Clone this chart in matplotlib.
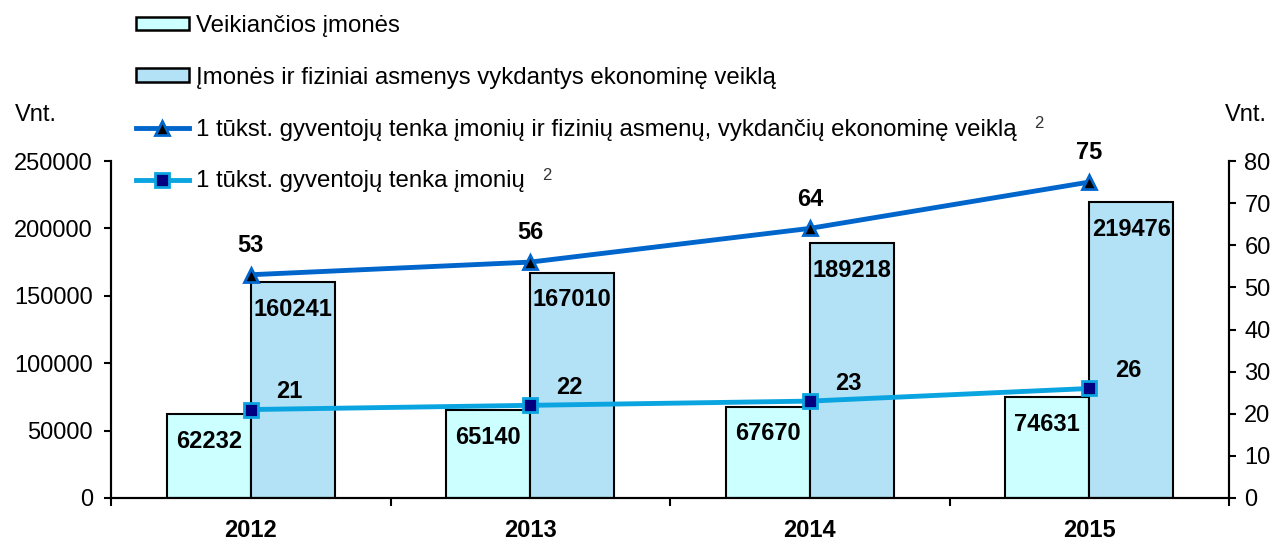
import numpy as np
import matplotlib.pyplot as plt
from matplotlib.patches import Patch
from matplotlib.lines import Line2D

plt.rcParams['font.family'] = ['Liberation Sans', 'DejaVu Sans']

# data
years = ['2012', '2013', '2014', '2015']
veikiancios = [62232, 65140, 67670, 74631]
vykdantys = [160241, 167010, 189218, 219476]
tenka_visi = [53, 56, 64, 75]      # imoniu ir fiziniu asmenu / 1 tukst. gyv.
tenka_imoniu = [21, 22, 23, 26]    # imoniu / 1 tukst. gyv.

labels = ['Veikiančios įmonės',
          'Įmonės ir fiziniai asmenys vykdantys ekonominę veiklą',
          '1 tūkst. gyventojų tenka įmonių ir fizinių asmenų, vykdančių ekonominę veiklą',
          '1 tūkst. gyventojų tenka įmonių']
footnote = '2'

c_bar1 = '#CCFFFF'
c_bar2 = '#B3E1F5'
c_line1 = '#0066CC'
c_line2 = '#0AA5E0'
FS = 17

fig = plt.figure(figsize=(12.84, 5.44), dpi=100)
ax = fig.add_axes([111 / 1284, 1 - 498 / 544, (1229 - 111) / 1284, (498 - 161) / 544])
ax2 = ax.twinx()

x = np.arange(len(years))
w = 0.3
b1 = ax.bar(x - w / 2, veikiancios, w, color=c_bar1, edgecolor='black', linewidth=1.5, zorder=2)
b2 = ax.bar(x + w / 2, vykdantys, w, color=c_bar2, edgecolor='black', linewidth=1.5, zorder=2)
for bars in (b1, b2):
    for r in bars:
        h = r.get_height()
        ax.annotate(f'{int(h)}', (r.get_x() + r.get_width() / 2, h),
                    xytext=(0, -19.5), textcoords='offset points', ha='center', va='center',
                    fontsize=FS, fontweight='bold')

ax.set_xlim(-0.5, len(years) - 0.5)
ax.set_ylim(0, 250000)
ax.set_yticks(np.arange(0, 250001, 50000))
ax.set_xticks(np.arange(-0.5, len(years), 1.0))
ax.set_xticklabels([])
ax.tick_params(axis='x', length=6, width=1.5, direction='out')
ax.tick_params(axis='y', length=5, width=1.5, direction='out', labelsize=FS, pad=8)
for i, y in enumerate(years):
    ax.text(i, -0.097, y, transform=ax.get_xaxis_transform(), ha='center', va='center',
            fontsize=FS, fontweight='bold')

ax2.plot(x, tenka_visi, color=c_line1, lw=3.5, marker='^', ms=9.5, mfc='black',
         mec=c_line1, mew=2, zorder=4)
ax2.plot(x, tenka_imoniu, color=c_line2, lw=3.5, marker='s', ms=9.5, mfc='#000080',
         mec=c_line2, mew=2, zorder=4)
ax2.set_ylim(0, 80)
ax2.set_yticks(np.arange(0, 81, 10))
ax2.tick_params(axis='y', length=5, width=1.5, direction='out', labelsize=FS, pad=6)
for i, v in enumerate(tenka_visi):
    ax2.annotate(str(v), (x[i], v), xytext=(0, 21), textcoords='offset points',
                 ha='center', va='center', fontsize=FS, fontweight='bold')
for i, v in enumerate(tenka_imoniu):
    ax2.annotate(str(v), (x[i], v), xytext=(28, 13), textcoords='offset points',
                 ha='center', va='center', fontsize=FS, fontweight='bold')

for a in (ax, ax2):
    a.spines['top'].set_visible(False)
    for s in ('left', 'right', 'bottom'):
        a.spines[s].set_linewidth(1.5)
ax.patch.set_visible(False)
ax2.patch.set_visible(False)

fig.text(36 / 1284, 1 - 115 / 544, 'Vnt.', ha='center', va='center', fontsize=FS)
fig.text(1246 / 1284, 1 - 115 / 544, 'Vnt.', ha='center', va='center', fontsize=FS)

handles = [
    Patch(facecolor=c_bar1, edgecolor='black', linewidth=1.8),
    Patch(facecolor=c_bar2, edgecolor='black', linewidth=1.8),
    Line2D([], [], color=c_line1, lw=3.5, marker='^', ms=9.5, mfc='black', mec=c_line1, mew=2),
    Line2D([], [], color=c_line2, lw=3.5, marker='s', ms=9.5, mfc='#000080', mec=c_line2, mew=2),
]
leg = fig.legend(handles, labels, loc='upper left',
                 bbox_to_anchor=(136 / 1284, 1 - 15 / 544), frameon=False, fontsize=17.3,
                 handlelength=2.2, handleheight=0.5, handletextpad=0.3, labelspacing=1.24,
                 borderaxespad=0, borderpad=0)

# footnote marks after the two line labels
fig.canvas.draw()
renderer = fig.canvas.get_renderer()
for t in leg.get_texts()[2:]:
    bb = t.get_window_extent(renderer)
    fig.text((bb.x1 + 22) / 1284, (bb.y0 + bb.y1) / 2 / 544 + 6 / 544, footnote,
             ha='center', va='center', fontsize=12, color='#333333')

fig.savefig('out.png', dpi=100)
